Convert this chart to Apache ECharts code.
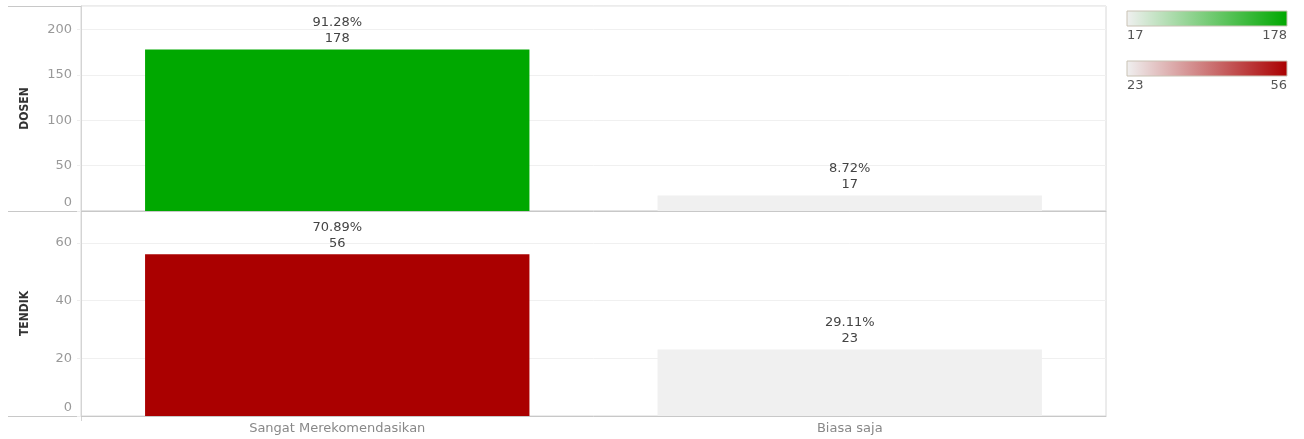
<!DOCTYPE html>
<html>
<head>
<meta charset="utf-8">
<script src="https://cdn.jsdelivr.net/npm/echarts@6/dist/echarts.min.js"></script>
<style>
  html, body { margin: 0; padding: 0; background: #fff; }
  #chart { width: 1304px; height: 439px; }
</style>
</head>
<body>
<div id="chart"></div>
<script>
const categories = ['Sangat Merekomendasikan', 'Biasa saja'];
const dosenData = [178, 17];
const tendikData = [56, 23];
const dosenTicks = [0, 50, 100, 150, 200];
const tendikTicks = [0, 20, 40, 60];

const FONT = "'DejaVu Sans', sans-serif";
const lightColor = '#f0f0f0';
const greenColor = '#00a800';
const redColor = '#aa0000';

const pct = (arr, v) => (v / arr.reduce((a, b) => a + b, 0) * 100).toFixed(2) + '%';

const min = arr => Math.min(...arr);
const max = arr => Math.max(...arr);

function yAxis(gridIndex, name, ticks, top) {
  return {
    type: 'value',
    gridIndex,
    min: 0,
    max: top,
    interval: ticks[1] - ticks[0],
    name,
    nameLocation: 'middle',
    nameGap: 50,
    nameTextStyle: {
      color: '#333',
      fontFamily: "'Liberation Sans Narrow', 'DejaVu Sans Condensed', sans-serif",
      fontWeight: 'bold',
      fontSize: 12,
    },
    axisLine: { show: true, lineStyle: { color: '#d4d4d4', width: 1 } },
    axisTick: { show: true, length: 4, lineStyle: { color: '#eeeeee' } },
    splitLine: { show: true, lineStyle: { color: '#f0f0f0' } },
    axisLabel: {
      color: '#999',
      fontFamily: FONT,
      fontSize: 13,
      margin: 9,
      showMaxLabel: false,
      // the zero label sits a little above the baseline, like the original
      formatter: v => (v === 0 ? '{z|0}' : String(v)),
      rich: {
        z: { color: '#999', fontFamily: FONT, fontSize: 13, padding: [0, 0, 16, 0] },
      },
    },
  };
}

function xAxis(gridIndex, showLabel) {
  return {
    type: 'category',
    gridIndex,
    data: categories,
    axisLine: { show: true, lineStyle: { color: '#c8c8c8' } },
    axisTick: { show: false },
    axisLabel: {
      show: showLabel,
      color: '#888',
      fontFamily: FONT,
      fontSize: 13,
      margin: 6,
    },
  };
}

function barSeries(idx, data) {
  return {
    type: 'bar',
    xAxisIndex: idx,
    yAxisIndex: idx,
    barWidth: '75%',
    data,
    label: {
      show: true,
      position: 'top',
      distance: 3,
      color: '#444',
      fontFamily: FONT,
      fontSize: 13,
      lineHeight: 16,
      formatter: p => pct(data, p.value) + '\n' + p.value,
    },
  };
}

function legend(y, data, color) {
  const x = 1127, w = 160, h = 15;
  return [
    {
      type: 'rect',
      shape: { x, y, width: w, height: h },
      style: {
        fill: new echarts.graphic.LinearGradient(0, 0, 1, 0, [
          { offset: 0, color: lightColor },
          { offset: 1, color },
        ]),
        stroke: '#c9c2b4',
        lineWidth: 1,
      },
    },
    {
      type: 'text',
      x, y: y + h + 3,
      style: { text: String(min(data)), fill: '#555', font: '13px ' + FONT, textAlign: 'left' },
    },
    {
      type: 'text',
      x: x + w, y: y + h + 3,
      style: { text: String(max(data)), fill: '#555', font: '13px ' + FONT, textAlign: 'right' },
    },
  ];
}

function hline(y) {
  return {
    type: 'line',
    shape: { x1: 8, y1: y + 0.5, x2: 81, y2: y + 0.5 },
    style: { stroke: '#c8c8c8', lineWidth: 1 },
  };
}

const chart = echarts.init(document.getElementById('chart'));
chart.setOption({
  backgroundColor: '#fff',
  animation: false,
  grid: [
    { left: 81, right: 198, top: 6, height: 205, show: true, borderColor: '#d8d8d8', borderWidth: 1 },
    { left: 81, right: 198, top: 211, height: 205, show: true, borderColor: '#d8d8d8', borderWidth: 1 },
  ],
  xAxis: [xAxis(0, false), xAxis(1, true)],
  yAxis: [yAxis(0, 'DOSEN', dosenTicks, 226), yAxis(1, 'TENDIK', tendikTicks, 71)],
  visualMap: [
    {
      type: 'continuous', show: false, seriesIndex: 0,
      min: min(dosenData), max: max(dosenData),
      inRange: { color: [lightColor, greenColor] },
    },
    {
      type: 'continuous', show: false, seriesIndex: 1,
      min: min(tendikData), max: max(tendikData),
      inRange: { color: [lightColor, redColor] },
    },
  ],
  series: [barSeries(0, dosenData), barSeries(1, tendikData)],
  graphic: [
    hline(6), hline(211), hline(416),
    { type: 'line', shape: { x1: 81.5, y1: 416, x2: 81.5, y2: 421 }, style: { stroke: '#d4d4d4' } },
    ...legend(11, dosenData, greenColor),
    ...legend(61, tendikData, redColor),
  ],
});
</script>
</body>
</html>
